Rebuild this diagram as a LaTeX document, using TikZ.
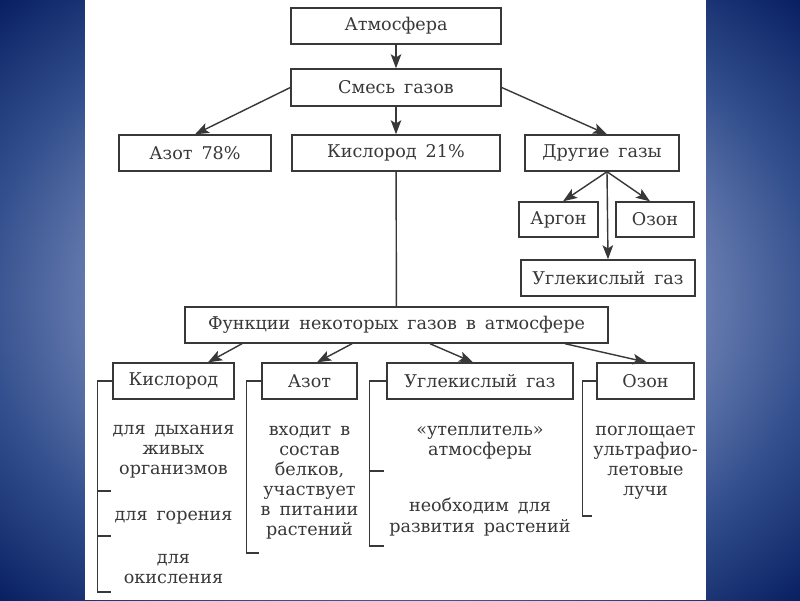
\documentclass[tikz,border=0pt]{standalone}
\usepackage{fontspec}
\setmainfont{DejaVu Serif}[WordSpace=1.6]
\usepackage{tikz}
\usetikzlibrary{arrows.meta}
\usetikzlibrary{calc}
\definecolor{inkgray}{HTML}{383838}
\definecolor{bglight}{HTML}{6E82B4}
\definecolor{bgmid}{HTML}{34508E}
\definecolor{bgdark}{HTML}{0A2264}
\pgfdeclareradialshading{slideblue}{\pgfpoint{0bp}{0bp}}{color(0bp)=(bglight); color(18bp)=(bglight); color(26bp)=(bgmid); color(35bp)=(bgdark); color(50bp)=(bgdark)}

\begin{document}
\begin{tikzpicture}[x=0.02cm, y=-0.02cm,
  every node/.style={font=\fontsize{10pt}{11.4pt}\selectfont},
  box/.style={draw=inkgray, line width=0.8pt, minimum height=0.72cm, inner sep=0pt, text=inkgray},
  txt/.style={text=inkgray, align=center, inner sep=0pt},
  arr/.style={draw=inkgray, line width=0.8pt, -{Stealth[length=8pt,width=6pt,inset=1.8pt]}},
  brk/.style={draw=inkgray, line width=0.8pt}]
\useasboundingbox (0,0) rectangle (800,600);
\shade[shading=slideblue] (0,0) rectangle (800,600);
\fill[white] (85,0) rectangle (706,600);

% upper part
\node[box, minimum width=4.2cm] (atm) at (396,26) {Атмосфера};
\node[box, minimum width=4.2cm, minimum height=0.74cm] (mix) at (396,87.5) {Смесь газов};
\node[box, minimum width=3.04cm] (nitro) at (195,153) {Азот 78\%};
\node[box, minimum width=4.16cm] (oxy) at (396,153) {Кислород 21\%};
\node[box, minimum width=3.08cm] (other) at (602,153) {Другие газы};
\node[box, minimum width=1.58cm, minimum height=0.7cm] (argon) at (558.5,219.5) {Аргон};
\node[box, minimum width=1.56cm, minimum height=0.7cm] (ozone) at (655,219.5) {Озон};
\node[box, minimum width=3.48cm] (co2) at (608,278) {Углекислый газ};

\draw[arr] (atm) -- (mix);
\draw[arr] (mix.west) -- (nitro.north);
\draw[arr] (mix) -- (oxy);
\draw[arr] (mix.east) -- ($(other.north)+(5,0)$);
\coordinate (fork) at ($(other.south)+(5,0)$);
\draw[arr] (fork) -- ($(argon.north)+(4.5,0)$);
\draw[arr] (fork) -- ($(ozone.north)+(-5,0)$);
\draw[arr] (fork) -- (co2.north);

% functions
\node[box, minimum width=8.46cm] (func) at (396.5,325) {Функции некоторых газов в атмосфере};
\draw[brk] (oxy) -- (func);
\node[box, minimum width=2.42cm] (fo) at (173.5,381) {Кислород};
\node[box, minimum width=1.9cm] (fn) at (309.5,381) {Азот};
\node[box, minimum width=3.72cm] (fc) at (480,381) {Углекислый газ};
\node[box, minimum width=1.94cm] (fz) at (645.5,381) {Озон};

\draw[arr] ($(func.south)+(-154.5,0)$) -- ($(fo.north)+(34.5,0)$);
\draw[arr] ($(func.south)+(-44.5,0)$) -- ($(fn.north)+(7.5,0)$);
\draw[arr] ($(func.south)+(33.5,0)$) -- ($(fc.north)+(-7,0)$);
\draw[arr] ($(func.south)+(168.5,0)$) -- ($(fz.north)+(1.5,0)$);

\draw[brk] (fo.west) -- ++(-15,0) |- ++(14,211);
\foreach \dy in {110,155}
  \draw[brk] ($(fo.west)+(-15,\dy)$) -- ++(14,0);
\draw[brk] (fn.west) -- ++(-15,0) |- ++(13,172);
\draw[brk] (fc.west) -- ++(-17,0) |- ++(15,165);
\draw[brk] ($(fc.west)+(-17,90)$) -- ++(15,0);
\draw[brk] (fz.west) -- ++(-14,0) |- ++(10,135);

\node[txt] (o1) at (173.5,452) {для дыхания\\живых\\организмов};
\node[txt] (o2) at (173.5,518) {для горения};
\node[txt] (o3) at (173.5,569) {для\\окисления};
\node[txt] (n1) at (309.5,482.5) {входит в\\состав\\белков,\\участвует\\в питании\\растений};
\node[txt] (c1) at (480,443) {«утеплитель»\\атмосферы};
\node[txt] (c2) at (480,517) {необходим для\\развития растений};
\node[txt] (z1) at (645.5,462.5) {поглощает\\ультрафио-\\летовые\\лучи};
\end{tikzpicture}
\end{document}
